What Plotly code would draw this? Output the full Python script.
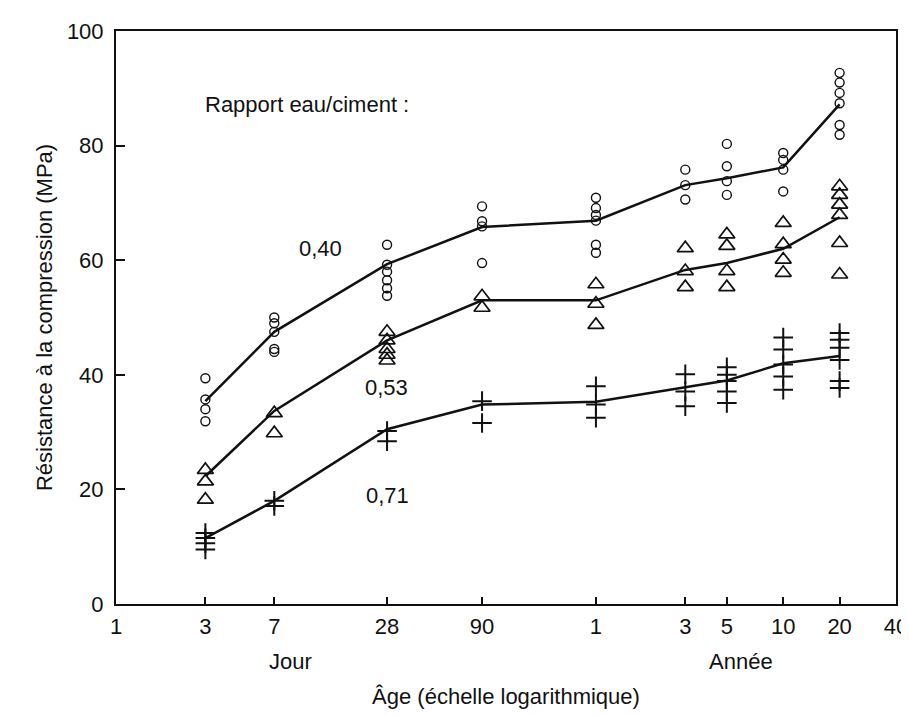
import math
import plotly.graph_objects as go

# Age tick values (days) and their labels
tick_days = [1, 3, 7, 28, 90, 365, 1095, 1825, 3650, 7300, 14600]
tick_text = ["1", "3", "7", "28", "90", "1", "3", "5", "10", "20", "40"]

# Test ages (days)
ages = [3, 7, 28, 90, 365, 1095, 1825, 3650, 7300]

# Individual results (MPa) per age, water/cement ratio 0.40
pts_040 = [
    [39.4, 35.7, 34.0, 31.9],
    [50.0, 49.0, 47.5, 44.5, 44.0],
    [62.7, 59.2, 58.0, 56.5, 55.1, 53.8],
    [69.4, 66.8, 65.9, 59.5],
    [70.9, 69.1, 67.9, 66.9, 62.7, 61.3],
    [75.8, 73.1, 70.6],
    [80.3, 76.4, 73.8, 71.4],
    [78.7, 77.5, 75.8, 72.0],
    [92.7, 91.0, 89.2, 87.4, 83.6, 81.9],
]
# ratio 0.53
pts_053 = [
    [23.4, 21.4, 18.2],
    [33.3, 29.8],
    [47.5, 46.0, 44.5, 43.5, 42.5],
    [53.7, 51.7],
    [55.8, 52.4, 48.7],
    [62.1, 58.1, 55.3],
    [64.5, 62.5, 58.1, 55.3],
    [66.5, 62.8, 60.1, 57.8],
    [72.9, 71.4, 69.7, 67.9, 63.0, 57.5],
]
# ratio 0.71
pts_071 = [
    [12.4, 11.5, 10.6, 9.5],
    [18.0, 17.1],
    [30.2, 28.4],
    [35.4, 31.6],
    [38.0, 34.8, 32.5],
    [40.1, 37.1, 34.5],
    [41.3, 40.0, 38.9, 37.1, 35.1],
    [46.5, 44.4, 41.8, 39.7, 37.4],
    [47.3, 46.1, 44.7, 42.6, 38.9, 37.7],
]

# Mean curves (MPa)
line_040 = [35.4, 47.5, 59.3, 65.8, 66.9, 73.1, 74.3, 76.2, 87.2]
line_053 = [22.3, 33.7, 46.0, 53.0, 53.0, 58.3, 59.5, 62.0, 67.5]
line_071 = [11.5, 18.0, 30.5, 34.8, 35.3, 37.9, 39.0, 42.0, 43.3]

ratio_labels = ["0,40", "0,53", "0,71"]

FONT = "Liberation Sans, Arial, Helvetica, sans-serif"
INK = "#111111"
FS = 22

fig = go.Figure()

for line_vals in (line_040, line_053, line_071):
    fig.add_trace(go.Scatter(x=ages, y=line_vals, mode="lines",
                             line=dict(color=INK, width=2.5),
                             showlegend=False, hoverinfo="skip"))


def flatten(pts):
    xs, ys = [], []
    for a, vals in zip(ages, pts):
        for v in vals:
            xs.append(a)
            ys.append(v)
    return xs, ys


styles = [
    (pts_040, dict(symbol="circle-open", size=9, color=INK, line=dict(width=1.4, color=INK))),
    (pts_053, dict(symbol="triangle-up-open", size=14, color=INK, line=dict(width=1.7, color=INK))),
    (pts_071, dict(symbol="cross-thin-open", size=14, color=INK, line=dict(width=2, color=INK))),
]
for pts, mk in styles:
    xs, ys = flatten(pts)
    fig.add_trace(go.Scatter(x=xs, y=ys, mode="markers", marker=mk,
                             showlegend=False, cliponaxis=False))

ann_font = dict(family=FONT, size=FS, color=INK)
annotations = [
    dict(x=math.log10(2.9), y=87.2, text="Rapport eau/ciment :", xanchor="left"),
    dict(x=math.log10(12.4), y=62.1, text=ratio_labels[0], xanchor="center"),
    dict(x=math.log10(27.7), y=37.7, text=ratio_labels[1], xanchor="center"),
    dict(x=math.log10(28.3), y=19.0, text=ratio_labels[2], xanchor="center"),
]
for a in annotations:
    fig.add_annotation(xref="x", yref="y", yanchor="middle", showarrow=False,
                       font=ann_font, **a)

for txt, d in (("Jour", 8.5), ("Année", 2173)):
    fig.add_annotation(xref="x", yref="paper", x=math.log10(d), y=-0.1,
                       text=txt, showarrow=False, xanchor="center",
                       yanchor="middle", font=ann_font)

fig.update_layout(
    width=909, height=715,
    margin=dict(l=108, r=21, t=23, b=119),
    paper_bgcolor="white", plot_bgcolor="white",
    font=dict(family=FONT, size=FS, color=INK),
    xaxis=dict(
        type="log", range=[0, math.log10(14600)],
        tickvals=tick_days, ticktext=tick_text,
        ticks="inside", ticklen=7, tickwidth=2, tickcolor=INK,
        showline=True, linewidth=2, linecolor=INK, mirror=True,
        showgrid=False, zeroline=False, automargin=False,
        ticklabelstandoff=2,
        title=dict(text="Âge (échelle logarithmique)", standoff=50,
                   font=dict(size=FS)),
    ),
    yaxis=dict(
        range=[0, 100], tickvals=[0, 20, 40, 60, 80, 100],
        ticks="inside", ticklen=9, tickwidth=2, tickcolor=INK,
        showline=True, linewidth=2, linecolor=INK, mirror=True,
        showgrid=False, zeroline=False, automargin=False,
        ticklabelstandoff=6,
        title=dict(text="Résistance à la compression (MPa)", standoff=8,
                   font=dict(size=FS)),
    ),
)

fig.write_html("out.html")
